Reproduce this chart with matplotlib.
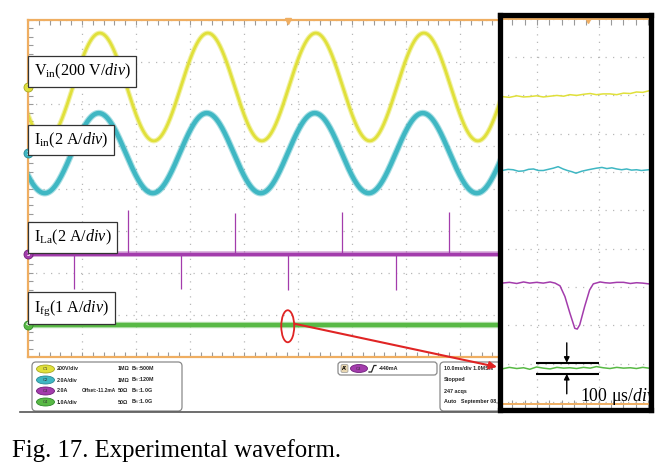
import numpy as np
import matplotlib
matplotlib.use("agg")
import matplotlib.pyplot as plt
import matplotlib.patheffects as pe
from matplotlib.patches import Ellipse, FancyBboxPatch, ConnectionPatch
from matplotlib.ticker import MultipleLocator, FixedLocator

plt.rcParams['mathtext.fontset'] = 'custom'
plt.rcParams['mathtext.rm'] = 'Liberation Serif'
plt.rcParams['mathtext.it'] = 'Liberation Serif:italic'
plt.rcParams['mathtext.bf'] = 'Liberation Serif:bold'

# ---- main capture (10 ms/div, values in divisions) ----
line_period = 20.0                      # ms
vin_offset, vin_amp, vin_peak = 2.41, 1.28, 13.3
iin_offset, iin_amp, iin_peak = 0.84, 0.95, 13.1
ila_offset = -1.56
ila_up_t = [18.5, 38.3, 58.1, 78.0]
ila_up_top = [-0.51, -0.58, -0.56, -0.56]
ila_down_t = [8.5, 28.3, 48.1, 68.1, 88.1]
ila_down_bot = [-2.39, -2.39, -2.41, -2.41, -2.41]
ifg_offset = -3.24
trigger_t = 48.1

# ---- zoomed capture (100 us/div) ----
z_vin_t = [0, 12, 24, 35, 45, 56, 67, 78, 89, 100, 110, 121, 132, 143, 153, 164, 175, 186, 197, 208, 218, 228, 238]
z_vin = [2.97, 2.95, 2.99, 2.96, 2.97, 2.99, 2.96, 2.98, 3.00, 2.98, 3.02, 3.00, 3.03, 3.05, 3.02, 3.04, 3.04, 3.02, 3.06, 3.05, 3.09, 3.08, 3.12]
z_iin_t = [0, 10, 18, 27, 35, 43, 51, 59, 67, 75, 83, 91, 99, 106, 113, 120, 129, 140, 153, 162, 170, 178, 186, 194, 202, 210, 218, 226, 238]
z_iin = [1.04, 1.07, 1.06, 1.02, 1.03, 1.07, 1.08, 1.04, 1.04, 1.07, 1.10, 1.14, 1.08, 1.04, 1.01, 0.97, 1.02, 1.06, 1.10, 1.12, 1.09, 1.11, 1.08, 1.06, 1.08, 1.05, 1.06, 1.04, 1.06]
z_ila_t = [0, 12, 24, 35, 45, 56, 67, 78, 86, 94, 102, 110, 118, 122, 126, 134, 142, 148, 159, 167, 175, 186, 197, 208, 218, 228, 238]
z_ila = [-1.90, -1.88, -1.91, -1.87, -1.90, -1.88, -1.90, -1.87, -1.90, -1.97, -2.25, -2.68, -3.08, -3.10, -2.99, -2.51, -2.08, -1.92, -1.87, -1.89, -1.90, -1.88, -1.88, -1.91, -1.89, -1.90, -1.92]
z_ifg_t = [0, 12, 24, 35, 45, 56, 67, 78, 89, 100, 110, 121, 132, 143, 153, 164, 175, 186, 197, 208, 218, 228, 238]
z_ifg = [-4.14, -4.10, -4.13, -4.11, -4.15, -4.09, -4.12, -4.14, -4.10, -4.12, -4.11, -4.13, -4.10, -4.12, -4.08, -4.11, -4.13, -4.10, -4.12, -4.11, -4.13, -4.10, -4.12]
ripple_hi, ripple_lo = -3.98, -4.27
z_trigger_t = 139.4

labels = ['V$_{\\mathrm{in}}$(200 V/$\\mathit{div}$)',
          'I$_{\\mathrm{in}}$(2 A/$\\mathit{div}$)',
          'I$_{\\mathrm{La}}$(2 A/$\\mathit{div}$)',
          'I$_{\\mathrm{fg}}$(1 A/$\\mathit{div}$)']
chan_rows = [['200V/div', '', '1M\u03a9', 'B$_{W}$:500M'],
             ['2.0A/div', '', '1M\u03a9', 'B$_{W}$:120M'],
             ['2.0A', 'Offset:-11.2mA', '50\u03a9', 'B$_{W}$:1.0G'],
             ['1.0A/div', '', '50\u03a9', 'B$_{W}$:1.0G']]
status_rows = ['10.0ms/div 1.0MS/s', 'Stopped', '247 acqs', 'Auto   September 08, 2016']
trigger_level = '-440mA'

ORANGE = '#EFAE62'
YEL, CYA, MAG, GRN = '#E0E03A', '#3FB7C3', '#A33CAC', '#58B945'
DARK = {YEL: '#A8A820', CYA: '#2A8A95', MAG: '#70207A', GRN: '#2F8A2A'}
GRID = '#B8B8B8'
SMALL = dict(fontweight='bold', family='Liberation Sans', color='#222222', va='center')


def fuzz(lw, c):
    return [pe.Stroke(linewidth=lw + 1.6, foreground=c, alpha=0.45), pe.Normal()]


fig = plt.figure(figsize=(6.72, 4.63), dpi=100)

# page layer in pixels: status bar and caption
pg = fig.add_axes([0, 0, 1, 1], zorder=0)
pg.set_xlim(0, 672)
pg.set_ylim(463, 0)
pg.axis('off')

# ---- main scope screen ----
ax = fig.add_axes([28 / 672, 106 / 463, 540 / 672, 337 / 463], zorder=1)
ax.set_xlim(0, 100)
ax.set_ylim(-4, 4)
ax.xaxis.set_major_locator(MultipleLocator(10))
ax.xaxis.set_minor_locator(MultipleLocator(2))
ax.yaxis.set_major_locator(MultipleLocator(1))
ax.yaxis.set_minor_locator(MultipleLocator(0.2))
ax.tick_params(which='both', direction='in', length=3.5, width=0.8, color='#9A9A9A',
               top=True, right=True, labelbottom=False, labelleft=False)
ax.grid(which='major', color=GRID, linestyle=(0, (1, 5)), lw=0.9)
for s in ax.spines.values():
    s.set_color(ORANGE)
    s.set_linewidth(1.6)

t = np.linspace(0, 100, 4001)
vin = vin_offset + vin_amp * np.cos(2 * np.pi * (t - vin_peak) / line_period)
iin = iin_offset + iin_amp * np.cos(2 * np.pi * (t - iin_peak) / line_period)
ax.plot(t, vin, color=YEL, lw=2.0, path_effects=fuzz(2.0, YEL))
ax.plot(t, iin, color=CYA, lw=3.2, path_effects=fuzz(3.2, CYA))
ax.plot([0, 100], [ila_offset, ila_offset], color=MAG, lw=2.4, path_effects=fuzz(2.4, MAG))
ax.vlines(ila_up_t, ila_offset, ila_up_top, color=MAG, lw=0.9)
ax.vlines(ila_down_t, ila_down_bot, ila_offset, color=MAG, lw=0.9)
ax.plot([0, 100], [ifg_offset, ifg_offset], color=GRN, lw=3.0, path_effects=fuzz(3.0, GRN))

ax.plot(trigger_t, 3.97, marker='v', ms=4.5, color=ORANGE, clip_on=False, zorder=6)

for k, (off, c) in enumerate(zip([vin_offset, iin_offset, ila_offset, ifg_offset], [YEL, CYA, MAG, GRN])):
    ax.plot(0, off, 'o', ms=6.5, mfc=c, mec=DARK[c], mew=0.6, clip_on=False, zorder=7)
    ax.text(0, off, str(k + 1), fontsize=3.5, color='white', ha='center', va='center',
            clip_on=False, zorder=8, fontweight='bold')

label_y = [0.847, 0.644, 0.3546, 0.1454]
for lab, y in zip(labels, label_y):
    ax.text(0.0105, y, lab, transform=ax.transAxes, fontsize=11.6, family='Liberation Serif',
            ha='left', va='center', zorder=9,
            bbox=dict(boxstyle='square,pad=0.36', fc='white', ec='#333333', lw=0.9))

ax.add_patch(Ellipse((trigger_t, ifg_offset - 0.03), 2.4, 0.76, fc='none', ec='#E02424', lw=1.3, zorder=8))

# ---- zoomed view ----
zx = fig.add_axes([499.5 / 672, (463 - 409.5) / 463, 151.5 / 672, 394.5 / 463], zorder=3)
zx.set_xlim(-4, 241.5)
zx.set_ylim(-5.20, 5.10)
zx.set_facecolor('white')
for s in zx.spines.values():
    s.set_color('black')
    s.set_linewidth(3.8)
    s.set_zorder(6)
zx.xaxis.set_major_locator(FixedLocator([56.7, 156.7]))
zx.xaxis.set_minor_locator(MultipleLocator(20, offset=16.7))
zx.yaxis.set_major_locator(MultipleLocator(1))
zx.tick_params(axis='x', which='both', direction='in', length=7, width=0.8, color='#9A9A9A',
               top=True, labelbottom=False)
zx.tick_params(axis='y', which='both', length=0, labelleft=False)
zx.grid(which='major', color=GRID, linestyle=(0, (1, 5)), lw=0.9)
zx.axhline(5.0, color=ORANGE, lw=1.4)
zx.axhline(-5.05, color=ORANGE, lw=1.4)
zx.plot(z_trigger_t, 4.97, marker='v', ms=4.5, color=ORANGE, zorder=5)

zx.plot(z_vin_t, z_vin, color=YEL, lw=1.1)
zx.plot(z_iin_t, z_iin, color=CYA, lw=1.1)
zx.plot(z_ila_t, z_ila, color=MAG, lw=1.1)
zx.plot(z_ifg_t, z_ifg, color=GRN, lw=1.1)

zx.hlines([ripple_hi, ripple_lo], 55, 157, color='black', lw=1.5, zorder=4)
zx.annotate('', xy=(105, ripple_hi), xytext=(105, -3.46),
            arrowprops=dict(arrowstyle='-|>', color='black', lw=1.0, mutation_scale=8, shrinkA=0, shrinkB=0))
zx.annotate('', xy=(105, ripple_lo), xytext=(105, -4.79),
            arrowprops=dict(arrowstyle='-|>', color='black', lw=1.0, mutation_scale=8, shrinkA=0, shrinkB=0))
zx.text(126.4, -4.99, '100 \u03bcs/$\\mathit{div}$', fontsize=12.8, family='Liberation Serif',
        va='baseline', ha='left', clip_on=True, zorder=5)

# red pointer from the marked spot into the zoom
con = ConnectionPatch(xyA=(trigger_t + 1.25, ifg_offset + 0.03), coordsA=ax.transData,
                      xyB=(-8, -4.09), coordsB=zx.transData,
                      arrowstyle='-|>', color='#E02424', lw=1.5, mutation_scale=11, zorder=2)
fig.add_artist(con)

# ---- status bar ----
pg.plot([20, 497], [412, 412], color='#555555', lw=1.2)
pg.add_patch(FancyBboxPatch((32, 362), 150, 49, boxstyle='round,pad=0,rounding_size=4',
                            fc='white', ec='#8A8A8A', lw=0.9))
pg.add_patch(FancyBboxPatch((338, 362), 99, 13, boxstyle='round,pad=0,rounding_size=3',
                            fc='white', ec='#8A8A8A', lw=0.9))
pg.add_patch(FancyBboxPatch((440, 362), 90, 49, boxstyle='round,pad=0,rounding_size=4',
                            fc='white', ec='#8A8A8A', lw=0.9))
row_y = [369, 380, 391, 402]
col_x = [57, 82, 118, 131]
for k, (c, row, y) in enumerate(zip([YEL, CYA, MAG, GRN], chan_rows, row_y)):
    pg.add_patch(Ellipse((45.5, y), 18, 8, fc=c, ec=DARK[c], lw=0.6))
    pg.text(45.5, y, 'C%d' % (k + 1), fontsize=3.0, color='#333333', ha='center', va='center')
    for x, s in zip(col_x, row):
        pg.text(x, y, s, ha='left', fontsize=3.4 if s.startswith('Offset') else 3.9, **SMALL)
pg.add_patch(FancyBboxPatch((341, 364.5), 7, 8, boxstyle='round,pad=0,rounding_size=1.5',
                            fc='#E8D6B0', ec='#999999', lw=0.5))
pg.text(344.5, 368.5, "A'", fontsize=3.5, fontweight='bold', ha='center', va='center')
pg.add_patch(Ellipse((359, 368.5), 17, 8, fc=MAG, ec=DARK[MAG], lw=0.6))
pg.text(359, 368.5, 'C3', fontsize=3.0, color='#333333', ha='center', va='center')
pg.plot([369, 371.5, 374, 376], [372, 372, 365.5, 365.5], color='#222222', lw=0.9)
pg.text(379, 368.5, trigger_level, ha='left', fontsize=3.9, **SMALL)
for s, y in zip(status_rows, row_y):
    pg.text(444, y, s, ha='left', fontsize=3.9, **SMALL)

pg.text(12, 457, 'Fig. 17. Experimental waveform.', fontsize=17.8, family='Liberation Serif',
        ha='left', va='baseline')

fig.savefig('out.png', dpi=100)
